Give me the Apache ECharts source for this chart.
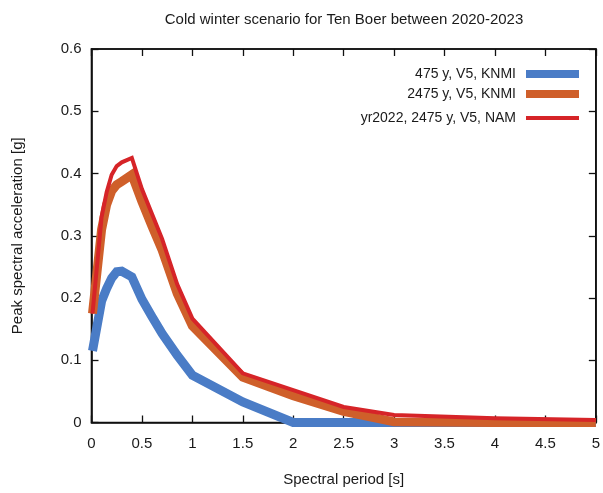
<!DOCTYPE html>
<html>
<head>
<meta charset="utf-8">
<script src="https://cdn.jsdelivr.net/npm/echarts@6/dist/echarts.min.js"></script>
<style>html,body{margin:0;padding:0;background:#fff;}#c{width:603px;height:493px;}</style>
</head>
<body>
<div id="c"></div>
<script>
const periods = [0.01, 0.1, 0.15, 0.2, 0.25, 0.3, 0.4, 0.5, 0.6, 0.7, 0.85, 1.0, 1.5, 2.0, 2.5, 3.0, 4.0, 5.0];
const knmi475 = [0.115, 0.195, 0.215, 0.232, 0.242, 0.243, 0.234, 0.198, 0.17, 0.143, 0.108, 0.076, 0.033, 0.0, 0.0, 0.0, 0.0, 0.0];
const knmi2475 = [0.175, 0.31, 0.35, 0.372, 0.382, 0.387, 0.398, 0.355, 0.315, 0.277, 0.207, 0.155, 0.073, 0.043, 0.018, 0.001, 0.0, 0.0];
const nam2475 = [0.175, 0.33, 0.37, 0.398, 0.412, 0.418, 0.425, 0.375, 0.335, 0.295, 0.222, 0.167, 0.079, 0.052, 0.025, 0.012, 0.007, 0.004];
const seriesNames = ['475 y, V5, KNMI', '2475 y, V5, KNMI', 'yr2022, 2475 y, V5, NAM'];
const xTicks = [0, 0.5, 1, 1.5, 2, 2.5, 3, 3.5, 4, 4.5, 5];
const yTicks = [0, 0.1, 0.2, 0.3, 0.4, 0.5, 0.6];

const pairs = vals => periods.map((p, i) => [p, vals[i]]);
const font = 'Liberation Sans, Arial, sans-serif';
const txt = '#1a1a1a';

const chart = echarts.init(document.getElementById('c'), null, {renderer: 'canvas'});
const axisBase = {
  type: 'value',
  splitLine: {show: false},
  axisLine: {show: true, onZero: false, lineStyle: {color: '#111', width: 1.6}},
  axisTick: {show: true, inside: true, length: 7, lineStyle: {color: '#111', width: 1.3}},
};
const legendText = {fontFamily: font, fontSize: 14, color: txt, padding: [0, 5, 0, 0]};
chart.setOption({
  animation: false,
  backgroundColor: '#fff',
  title: {
    text: 'Cold winter scenario for Ten Boer between 2020-2023',
    left: 339, top: 7, textAlign: 'center',
    textStyle: {fontFamily: font, fontSize: 15, fontWeight: 'normal', color: txt}
  },
  grid: {left: 91.5, right: 4.5, top: 49, bottom: 70.5, show: true, borderColor: '#111', borderWidth: 1.6, backgroundColor: 'transparent'},
  legend: [
    {
      orient: 'vertical', right: 19, top: 62, align: 'right',
      itemWidth: 53, itemHeight: 8, itemGap: 6,
      textStyle: legendText,
      data: [{name: seriesNames[0], icon: 'rect'}, {name: seriesNames[1], icon: 'rect'}]
    },
    {
      orient: 'vertical', right: 19, top: 106, align: 'right',
      itemWidth: 53, itemHeight: 4, itemGap: 6,
      textStyle: legendText,
      data: [{name: seriesNames[2], icon: 'rect'}]
    }
  ],
  xAxis: [
    Object.assign({}, axisBase, {
      min: xTicks[0], max: xTicks[xTicks.length - 1], interval: 0.5,
      name: 'Spectral period [s]', nameLocation: 'middle', nameGap: 50,
      nameTextStyle: {fontFamily: font, fontSize: 15, color: txt},
      axisLabel: {fontFamily: font, fontSize: 15, color: txt, margin: 14}
    }),
    Object.assign({}, axisBase, {
      position: 'top', min: xTicks[0], max: xTicks[xTicks.length - 1], interval: 0.5,
      axisLabel: {show: false}
    })
  ],
  yAxis: [
    Object.assign({}, axisBase, {
      min: yTicks[0], max: yTicks[yTicks.length - 1], interval: 0.1,
      name: 'Peak spectral acceleration [g]', nameLocation: 'middle', nameGap: 66,
      nameTextStyle: {fontFamily: font, fontSize: 15, color: txt},
      axisLabel: {fontFamily: font, fontSize: 15, color: txt, margin: 10,
        formatter: v => (v === 0 ? '0' : v.toFixed(1))}
    }),
    Object.assign({}, axisBase, {
      position: 'right', min: yTicks[0], max: yTicks[yTicks.length - 1], interval: 0.1,
      axisLabel: {show: false}
    })
  ],
  series: [
    {name: seriesNames[0], type: 'line', data: pairs(knmi475), symbol: 'none',
     color: '#4a7cc6', lineStyle: {width: 9, color: '#4a7cc6', join: 'miter'}, z: 2},
    {name: seriesNames[1], type: 'line', data: pairs(knmi2475), symbol: 'none',
     color: '#cf5f2a', lineStyle: {width: 9, color: '#cf5f2a', join: 'miter'}, z: 3},
    {name: seriesNames[2], type: 'line', data: pairs(nam2475), symbol: 'none',
     color: '#d62428', lineStyle: {width: 4, color: '#d62428', join: 'miter'}, z: 4}
  ]
});
</script>
</body>
</html>
